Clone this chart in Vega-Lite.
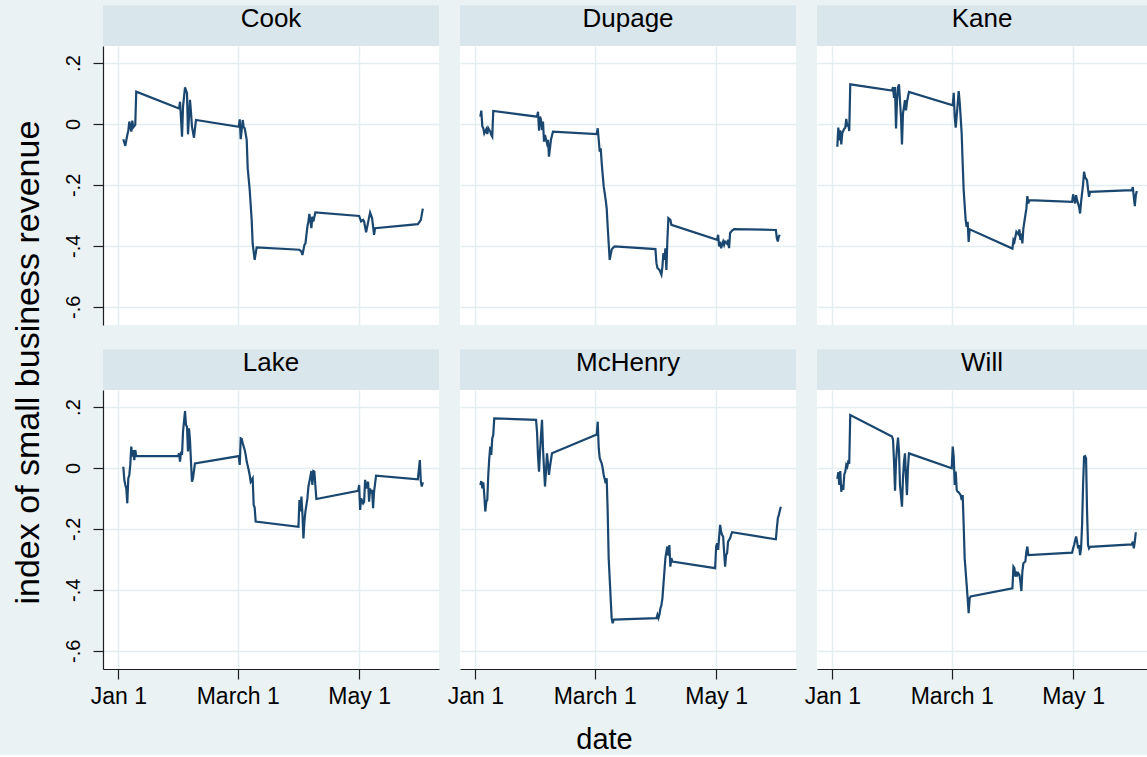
{
  "$schema": "https://vega.github.io/schema/vega-lite/v6.json",
  "background": "#eaf2f3",
  "padding": {"left": 11, "top": 5, "right": 0, "bottom": 0},
  "datasets": {
    "rev": [
      {"county":"Cook","date":"2020-01-03T12:00","revenue":-0.050},{"county":"Cook","date":"2020-01-04T12:00","revenue":-0.072},{"county":"Cook","date":"2020-01-05T12:00","revenue":-0.036},{"county":"Cook","date":"2020-01-06T00:00","revenue":-0.022},{"county":"Cook","date":"2020-01-06T12:00","revenue":0.008},{"county":"Cook","date":"2020-01-07T12:00","revenue":-0.025},{"county":"Cook","date":"2020-01-08T00:00","revenue":0.011},{"county":"Cook","date":"2020-01-08T12:00","revenue":-0.011},{"county":"Cook","date":"2020-01-09T12:00","revenue":-0.003},{"county":"Cook","date":"2020-01-10T00:00","revenue":0.106},{"county":"Cook","date":"2020-01-31T12:00","revenue":0.051},{"county":"Cook","date":"2020-02-01T00:00","revenue":0.073},{"county":"Cook","date":"2020-02-02T00:00","revenue":-0.042},{"county":"Cook","date":"2020-02-02T12:00","revenue":0.057},{"county":"Cook","date":"2020-02-03T12:00","revenue":0.120},{"county":"Cook","date":"2020-02-04T12:00","revenue":0.101},{"county":"Cook","date":"2020-02-05T00:00","revenue":-0.034},{"county":"Cook","date":"2020-02-06T00:00","revenue":0.079},{"county":"Cook","date":"2020-02-06T12:00","revenue":0.040},{"county":"Cook","date":"2020-02-07T00:00","revenue":-0.009},{"county":"Cook","date":"2020-02-08T00:00","revenue":-0.045},{"county":"Cook","date":"2020-02-09T00:00","revenue":0.013},{"county":"Cook","date":"2020-03-01T12:00","revenue":-0.009},{"county":"Cook","date":"2020-03-02T00:00","revenue":0.015},{"county":"Cook","date":"2020-03-02T12:00","revenue":-0.050},{"county":"Cook","date":"2020-03-03T12:00","revenue":0.013},{"county":"Cook","date":"2020-03-04T00:00","revenue":-0.011},{"county":"Cook","date":"2020-03-04T12:00","revenue":-0.014},{"county":"Cook","date":"2020-03-05T12:00","revenue":-0.052},{"county":"Cook","date":"2020-03-06T00:00","revenue":-0.145},{"county":"Cook","date":"2020-03-07T00:00","revenue":-0.216},{"county":"Cook","date":"2020-03-08T00:00","revenue":-0.315},{"county":"Cook","date":"2020-03-08T12:00","revenue":-0.393},{"county":"Cook","date":"2020-03-09T12:00","revenue":-0.446},{"county":"Cook","date":"2020-03-10T12:00","revenue":-0.405},{"county":"Cook","date":"2020-04-01T00:00","revenue":-0.413},{"county":"Cook","date":"2020-04-02T00:00","revenue":-0.419},{"county":"Cook","date":"2020-04-02T12:00","revenue":-0.430},{"county":"Cook","date":"2020-04-03T12:00","revenue":-0.397},{"county":"Cook","date":"2020-04-04T00:00","revenue":-0.393},{"county":"Cook","date":"2020-04-05T00:00","revenue":-0.337},{"county":"Cook","date":"2020-04-05T12:00","revenue":-0.320},{"county":"Cook","date":"2020-04-06T00:00","revenue":-0.295},{"county":"Cook","date":"2020-04-07T00:00","revenue":-0.342},{"county":"Cook","date":"2020-04-07T12:00","revenue":-0.304},{"county":"Cook","date":"2020-04-08T00:00","revenue":-0.320},{"county":"Cook","date":"2020-04-09T00:00","revenue":-0.290},{"county":"Cook","date":"2020-05-01T00:00","revenue":-0.302},{"county":"Cook","date":"2020-05-02T00:00","revenue":-0.320},{"county":"Cook","date":"2020-05-03T00:00","revenue":-0.315},{"county":"Cook","date":"2020-05-03T12:00","revenue":-0.320},{"county":"Cook","date":"2020-05-04T12:00","revenue":-0.356},{"county":"Cook","date":"2020-05-05T12:00","revenue":-0.323},{"county":"Cook","date":"2020-05-06T12:00","revenue":-0.291},{"county":"Cook","date":"2020-05-07T12:00","revenue":-0.309},{"county":"Cook","date":"2020-05-08T12:00","revenue":-0.364},{"county":"Cook","date":"2020-05-09T00:00","revenue":-0.342},{"county":"Cook","date":"2020-05-30T12:00","revenue":-0.329},{"county":"Cook","date":"2020-05-31T12:00","revenue":-0.320},{"county":"Cook","date":"2020-06-01T00:00","revenue":-0.315},{"county":"Cook","date":"2020-06-02T00:00","revenue":-0.278},

      {"county":"Dupage","date":"2020-01-03T12:00","revenue":0.024},{"county":"Dupage","date":"2020-01-04T00:00","revenue":0.044},{"county":"Dupage","date":"2020-01-04T12:00","revenue":-0.007},{"county":"Dupage","date":"2020-01-05T00:00","revenue":-0.014},{"county":"Dupage","date":"2020-01-05T12:00","revenue":-0.031},{"county":"Dupage","date":"2020-01-06T12:00","revenue":-0.017},{"county":"Dupage","date":"2020-01-07T00:00","revenue":-0.033},{"county":"Dupage","date":"2020-01-07T12:00","revenue":-0.014},{"county":"Dupage","date":"2020-01-08T12:00","revenue":-0.025},{"county":"Dupage","date":"2020-01-09T00:00","revenue":-0.036},{"county":"Dupage","date":"2020-01-09T12:00","revenue":-0.042},{"county":"Dupage","date":"2020-01-10T00:00","revenue":0.043},{"county":"Dupage","date":"2020-02-01T00:00","revenue":0.024},{"county":"Dupage","date":"2020-02-01T12:00","revenue":0.040},{"county":"Dupage","date":"2020-02-02T00:00","revenue":-0.022},{"county":"Dupage","date":"2020-02-02T12:00","revenue":0.024},{"county":"Dupage","date":"2020-02-03T00:00","revenue":0.013},{"county":"Dupage","date":"2020-02-03T12:00","revenue":-0.020},{"county":"Dupage","date":"2020-02-04T00:00","revenue":0.008},{"county":"Dupage","date":"2020-02-04T12:00","revenue":-0.058},{"county":"Dupage","date":"2020-02-05T00:00","revenue":-0.036},{"county":"Dupage","date":"2020-02-06T00:00","revenue":-0.063},{"county":"Dupage","date":"2020-02-06T12:00","revenue":-0.052},{"county":"Dupage","date":"2020-02-07T00:00","revenue":-0.107},{"county":"Dupage","date":"2020-02-08T00:00","revenue":-0.052},{"county":"Dupage","date":"2020-02-09T00:00","revenue":-0.025},{"county":"Dupage","date":"2020-03-02T00:00","revenue":-0.033},{"county":"Dupage","date":"2020-03-02T12:00","revenue":-0.014},{"county":"Dupage","date":"2020-03-03T00:00","revenue":-0.052},{"county":"Dupage","date":"2020-03-03T12:00","revenue":-0.091},{"county":"Dupage","date":"2020-03-04T00:00","revenue":-0.080},{"county":"Dupage","date":"2020-03-04T12:00","revenue":-0.129},{"county":"Dupage","date":"2020-03-05T00:00","revenue":-0.167},{"county":"Dupage","date":"2020-03-05T12:00","revenue":-0.205},{"county":"Dupage","date":"2020-03-06T12:00","revenue":-0.249},{"county":"Dupage","date":"2020-03-07T00:00","revenue":-0.277},{"county":"Dupage","date":"2020-03-07T12:00","revenue":-0.337},{"county":"Dupage","date":"2020-03-08T00:00","revenue":-0.391},{"county":"Dupage","date":"2020-03-08T12:00","revenue":-0.446},{"county":"Dupage","date":"2020-03-09T12:00","revenue":-0.413},{"county":"Dupage","date":"2020-03-10T00:00","revenue":-0.408},{"county":"Dupage","date":"2020-03-11T00:00","revenue":-0.402},{"county":"Dupage","date":"2020-03-31T12:00","revenue":-0.411},{"county":"Dupage","date":"2020-04-01T00:00","revenue":-0.457},{"county":"Dupage","date":"2020-04-01T12:00","revenue":-0.473},{"county":"Dupage","date":"2020-04-02T12:00","revenue":-0.479},{"county":"Dupage","date":"2020-04-03T12:00","revenue":-0.495},{"county":"Dupage","date":"2020-04-04T00:00","revenue":-0.468},{"county":"Dupage","date":"2020-04-04T12:00","revenue":-0.424},{"county":"Dupage","date":"2020-04-05T00:00","revenue":-0.446},{"county":"Dupage","date":"2020-04-05T12:00","revenue":-0.408},{"county":"Dupage","date":"2020-04-06T00:00","revenue":-0.479},{"county":"Dupage","date":"2020-04-06T12:00","revenue":-0.380},{"county":"Dupage","date":"2020-04-07T00:00","revenue":-0.309},{"county":"Dupage","date":"2020-04-08T00:00","revenue":-0.315},{"county":"Dupage","date":"2020-04-08T12:00","revenue":-0.331},{"county":"Dupage","date":"2020-05-01T12:00","revenue":-0.380},{"county":"Dupage","date":"2020-05-02T00:00","revenue":-0.364},{"county":"Dupage","date":"2020-05-02T12:00","revenue":-0.402},{"county":"Dupage","date":"2020-05-03T00:00","revenue":-0.386},{"county":"Dupage","date":"2020-05-03T12:00","revenue":-0.408},{"county":"Dupage","date":"2020-05-04T12:00","revenue":-0.386},{"county":"Dupage","date":"2020-05-05T00:00","revenue":-0.397},{"county":"Dupage","date":"2020-05-05T12:00","revenue":-0.386},{"county":"Dupage","date":"2020-05-06T12:00","revenue":-0.393},{"county":"Dupage","date":"2020-05-07T00:00","revenue":-0.380},{"county":"Dupage","date":"2020-05-07T12:00","revenue":-0.408},{"county":"Dupage","date":"2020-05-08T00:00","revenue":-0.358},{"county":"Dupage","date":"2020-05-09T00:00","revenue":-0.350},{"county":"Dupage","date":"2020-05-10T00:00","revenue":-0.345},{"county":"Dupage","date":"2020-05-31T00:00","revenue":-0.348},{"county":"Dupage","date":"2020-05-31T12:00","revenue":-0.375},{"county":"Dupage","date":"2020-06-01T00:00","revenue":-0.386},{"county":"Dupage","date":"2020-06-01T12:00","revenue":-0.369},{"county":"Dupage","date":"2020-06-02T00:00","revenue":-0.364},

      {"county":"Kane","date":"2020-01-03T12:00","revenue":-0.075},{"county":"Kane","date":"2020-01-04T00:00","revenue":-0.012},{"county":"Kane","date":"2020-01-04T12:00","revenue":-0.054},{"county":"Kane","date":"2020-01-05T00:00","revenue":-0.021},{"county":"Kane","date":"2020-01-05T12:00","revenue":-0.067},{"county":"Kane","date":"2020-01-06T00:00","revenue":-0.030},{"county":"Kane","date":"2020-01-07T00:00","revenue":-0.015},{"county":"Kane","date":"2020-01-07T12:00","revenue":-0.012},{"county":"Kane","date":"2020-01-08T00:00","revenue":0.017},{"county":"Kane","date":"2020-01-08T12:00","revenue":-0.008},{"county":"Kane","date":"2020-01-09T00:00","revenue":0.001},{"county":"Kane","date":"2020-01-09T12:00","revenue":-0.023},{"county":"Kane","date":"2020-01-10T00:00","revenue":0.130},{"county":"Kane","date":"2020-01-31T00:00","revenue":0.110},{"county":"Kane","date":"2020-01-31T12:00","revenue":0.121},{"county":"Kane","date":"2020-02-01T00:00","revenue":0.086},{"county":"Kane","date":"2020-02-01T12:00","revenue":0.121},{"county":"Kane","date":"2020-02-02T00:00","revenue":-0.015},{"county":"Kane","date":"2020-02-02T12:00","revenue":0.078},{"county":"Kane","date":"2020-02-03T00:00","revenue":0.121},{"county":"Kane","date":"2020-02-03T12:00","revenue":0.130},{"county":"Kane","date":"2020-02-04T12:00","revenue":0.023},{"county":"Kane","date":"2020-02-05T00:00","revenue":-0.067},{"county":"Kane","date":"2020-02-05T12:00","revenue":0.034},{"county":"Kane","date":"2020-02-06T00:00","revenue":0.056},{"county":"Kane","date":"2020-02-06T12:00","revenue":0.078},{"county":"Kane","date":"2020-02-07T00:00","revenue":0.045},{"county":"Kane","date":"2020-02-07T12:00","revenue":0.072},{"county":"Kane","date":"2020-02-08T12:00","revenue":0.105},{"county":"Kane","date":"2020-03-01T12:00","revenue":0.061},{"county":"Kane","date":"2020-03-02T00:00","revenue":0.102},{"county":"Kane","date":"2020-03-02T12:00","revenue":0.023},{"county":"Kane","date":"2020-03-03T00:00","revenue":-0.012},{"county":"Kane","date":"2020-03-04T00:00","revenue":0.067},{"county":"Kane","date":"2020-03-04T12:00","revenue":0.108},{"county":"Kane","date":"2020-03-05T00:00","revenue":0.072},{"county":"Kane","date":"2020-03-06T00:00","revenue":-0.032},{"county":"Kane","date":"2020-03-06T12:00","revenue":-0.130},{"county":"Kane","date":"2020-03-07T00:00","revenue":-0.217},{"county":"Kane","date":"2020-03-08T00:00","revenue":-0.316},{"county":"Kane","date":"2020-03-08T12:00","revenue":-0.338},{"county":"Kane","date":"2020-03-09T00:00","revenue":-0.321},{"county":"Kane","date":"2020-03-09T12:00","revenue":-0.387},{"county":"Kane","date":"2020-03-10T00:00","revenue":-0.346},{"county":"Kane","date":"2020-03-31T12:00","revenue":-0.409},{"county":"Kane","date":"2020-04-01T00:00","revenue":-0.381},{"county":"Kane","date":"2020-04-01T12:00","revenue":-0.387},{"county":"Kane","date":"2020-04-02T00:00","revenue":-0.370},{"county":"Kane","date":"2020-04-02T12:00","revenue":-0.354},{"county":"Kane","date":"2020-04-03T12:00","revenue":-0.362},{"county":"Kane","date":"2020-04-04T00:00","revenue":-0.346},{"county":"Kane","date":"2020-04-04T12:00","revenue":-0.381},{"county":"Kane","date":"2020-04-05T00:00","revenue":-0.360},{"county":"Kane","date":"2020-04-05T12:00","revenue":-0.392},{"county":"Kane","date":"2020-04-06T00:00","revenue":-0.343},{"county":"Kane","date":"2020-04-06T12:00","revenue":-0.321},{"county":"Kane","date":"2020-04-07T12:00","revenue":-0.278},{"county":"Kane","date":"2020-04-08T00:00","revenue":-0.237},{"county":"Kane","date":"2020-04-08T12:00","revenue":-0.261},{"county":"Kane","date":"2020-04-09T00:00","revenue":-0.250},{"county":"Kane","date":"2020-04-30T12:00","revenue":-0.256},{"county":"Kane","date":"2020-05-01T00:00","revenue":-0.231},{"county":"Kane","date":"2020-05-02T00:00","revenue":-0.261},{"county":"Kane","date":"2020-05-02T12:00","revenue":-0.234},{"county":"Kane","date":"2020-05-03T00:00","revenue":-0.250},{"county":"Kane","date":"2020-05-04T00:00","revenue":-0.272},{"county":"Kane","date":"2020-05-04T12:00","revenue":-0.294},{"county":"Kane","date":"2020-05-05T00:00","revenue":-0.256},{"county":"Kane","date":"2020-05-06T00:00","revenue":-0.198},{"county":"Kane","date":"2020-05-06T12:00","revenue":-0.157},{"county":"Kane","date":"2020-05-07T00:00","revenue":-0.174},{"county":"Kane","date":"2020-05-08T00:00","revenue":-0.185},{"county":"Kane","date":"2020-05-08T12:00","revenue":-0.215},{"county":"Kane","date":"2020-05-09T00:00","revenue":-0.239},{"county":"Kane","date":"2020-05-09T12:00","revenue":-0.223},{"county":"Kane","date":"2020-05-30T12:00","revenue":-0.217},{"county":"Kane","date":"2020-05-31T00:00","revenue":-0.207},{"county":"Kane","date":"2020-05-31T12:00","revenue":-0.239},{"county":"Kane","date":"2020-06-01T00:00","revenue":-0.270},{"county":"Kane","date":"2020-06-01T12:00","revenue":-0.234},{"county":"Kane","date":"2020-06-02T00:00","revenue":-0.220},

      {"county":"Lake","date":"2020-01-03T12:00","revenue":0.004},{"county":"Lake","date":"2020-01-04T00:00","revenue":-0.039},{"county":"Lake","date":"2020-01-04T12:00","revenue":-0.056},{"county":"Lake","date":"2020-01-05T00:00","revenue":-0.067},{"county":"Lake","date":"2020-01-05T12:00","revenue":-0.116},{"county":"Lake","date":"2020-01-06T00:00","revenue":-0.034},{"county":"Lake","date":"2020-01-06T12:00","revenue":-0.023},{"county":"Lake","date":"2020-01-07T00:00","revenue":0.010},{"county":"Lake","date":"2020-01-07T12:00","revenue":0.070},{"county":"Lake","date":"2020-01-08T00:00","revenue":0.037},{"county":"Lake","date":"2020-01-08T12:00","revenue":0.059},{"county":"Lake","date":"2020-01-09T00:00","revenue":0.026},{"county":"Lake","date":"2020-01-09T12:00","revenue":0.059},{"county":"Lake","date":"2020-01-10T00:00","revenue":0.039},{"county":"Lake","date":"2020-01-31T00:00","revenue":0.039},{"county":"Lake","date":"2020-01-31T12:00","revenue":0.048},{"county":"Lake","date":"2020-02-01T00:00","revenue":0.021},{"county":"Lake","date":"2020-02-01T12:00","revenue":0.054},{"county":"Lake","date":"2020-02-02T00:00","revenue":0.043},{"county":"Lake","date":"2020-02-02T12:00","revenue":0.119},{"county":"Lake","date":"2020-02-03T12:00","revenue":0.187},{"county":"Lake","date":"2020-02-04T00:00","revenue":0.141},{"county":"Lake","date":"2020-02-04T12:00","revenue":0.136},{"county":"Lake","date":"2020-02-05T00:00","revenue":0.054},{"county":"Lake","date":"2020-02-05T12:00","revenue":0.130},{"county":"Lake","date":"2020-02-06T00:00","revenue":0.092},{"county":"Lake","date":"2020-02-06T12:00","revenue":0.021},{"county":"Lake","date":"2020-02-07T00:00","revenue":-0.045},{"county":"Lake","date":"2020-02-07T12:00","revenue":-0.034},{"county":"Lake","date":"2020-02-08T12:00","revenue":0.015},{"county":"Lake","date":"2020-03-01T12:00","revenue":0.039},{"county":"Lake","date":"2020-03-02T00:00","revenue":0.010},{"county":"Lake","date":"2020-03-02T12:00","revenue":0.097},{"county":"Lake","date":"2020-03-03T00:00","revenue":0.095},{"county":"Lake","date":"2020-03-03T12:00","revenue":0.081},{"county":"Lake","date":"2020-03-04T12:00","revenue":0.059},{"county":"Lake","date":"2020-03-05T00:00","revenue":0.043},{"county":"Lake","date":"2020-03-05T12:00","revenue":0.021},{"county":"Lake","date":"2020-03-06T12:00","revenue":-0.007},{"county":"Lake","date":"2020-03-07T00:00","revenue":-0.023},{"county":"Lake","date":"2020-03-07T12:00","revenue":-0.045},{"county":"Lake","date":"2020-03-08T12:00","revenue":-0.034},{"county":"Lake","date":"2020-03-09T00:00","revenue":-0.121},{"county":"Lake","date":"2020-03-09T12:00","revenue":-0.130},{"county":"Lake","date":"2020-03-10T00:00","revenue":-0.176},{"county":"Lake","date":"2020-03-31T12:00","revenue":-0.193},{"county":"Lake","date":"2020-04-01T00:00","revenue":-0.105},{"county":"Lake","date":"2020-04-01T12:00","revenue":-0.143},{"county":"Lake","date":"2020-04-02T00:00","revenue":-0.094},{"county":"Lake","date":"2020-04-02T12:00","revenue":-0.149},{"county":"Lake","date":"2020-04-03T00:00","revenue":-0.231},{"county":"Lake","date":"2020-04-03T12:00","revenue":-0.176},{"county":"Lake","date":"2020-04-04T00:00","revenue":-0.143},{"county":"Lake","date":"2020-04-05T00:00","revenue":-0.100},{"county":"Lake","date":"2020-04-05T12:00","revenue":-0.061},{"county":"Lake","date":"2020-04-06T00:00","revenue":-0.045},{"county":"Lake","date":"2020-04-06T12:00","revenue":-0.028},{"county":"Lake","date":"2020-04-07T00:00","revenue":-0.010},{"county":"Lake","date":"2020-04-07T12:00","revenue":-0.056},{"county":"Lake","date":"2020-04-08T00:00","revenue":-0.010},{"county":"Lake","date":"2020-04-08T12:00","revenue":-0.012},{"county":"Lake","date":"2020-04-09T12:00","revenue":-0.102},{"county":"Lake","date":"2020-04-30T12:00","revenue":-0.075},{"county":"Lake","date":"2020-05-01T00:00","revenue":-0.056},{"county":"Lake","date":"2020-05-01T12:00","revenue":-0.138},{"county":"Lake","date":"2020-05-02T00:00","revenue":-0.100},{"county":"Lake","date":"2020-05-03T00:00","revenue":-0.116},{"county":"Lake","date":"2020-05-03T12:00","revenue":-0.111},{"county":"Lake","date":"2020-05-04T00:00","revenue":-0.039},{"county":"Lake","date":"2020-05-04T12:00","revenue":-0.067},{"county":"Lake","date":"2020-05-05T12:00","revenue":-0.045},{"county":"Lake","date":"2020-05-06T00:00","revenue":-0.111},{"county":"Lake","date":"2020-05-06T12:00","revenue":-0.067},{"county":"Lake","date":"2020-05-07T00:00","revenue":-0.083},{"county":"Lake","date":"2020-05-07T12:00","revenue":-0.072},{"county":"Lake","date":"2020-05-08T00:00","revenue":-0.132},{"county":"Lake","date":"2020-05-08T12:00","revenue":-0.078},{"county":"Lake","date":"2020-05-09T12:00","revenue":-0.025},{"county":"Lake","date":"2020-05-30T12:00","revenue":-0.037},{"county":"Lake","date":"2020-05-31T12:00","revenue":0.026},{"county":"Lake","date":"2020-06-01T00:00","revenue":-0.045},{"county":"Lake","date":"2020-06-01T12:00","revenue":-0.061},{"county":"Lake","date":"2020-06-02T00:00","revenue":-0.047},

      {"county":"McHenry","date":"2020-01-03T12:00","revenue":-0.056},{"county":"McHenry","date":"2020-01-04T00:00","revenue":-0.043},{"county":"McHenry","date":"2020-01-04T12:00","revenue":-0.067},{"county":"McHenry","date":"2020-01-05T00:00","revenue":-0.047},{"county":"McHenry","date":"2020-01-05T12:00","revenue":-0.089},{"county":"McHenry","date":"2020-01-06T00:00","revenue":-0.143},{"county":"McHenry","date":"2020-01-06T12:00","revenue":-0.111},{"county":"McHenry","date":"2020-01-07T00:00","revenue":-0.105},{"county":"McHenry","date":"2020-01-07T12:00","revenue":-0.023},{"county":"McHenry","date":"2020-01-08T00:00","revenue":0.032},{"county":"McHenry","date":"2020-01-08T12:00","revenue":0.070},{"county":"McHenry","date":"2020-01-09T00:00","revenue":0.043},{"county":"McHenry","date":"2020-01-09T12:00","revenue":0.097},{"county":"McHenry","date":"2020-01-10T00:00","revenue":0.108},{"county":"McHenry","date":"2020-01-10T12:00","revenue":0.163},{"county":"McHenry","date":"2020-01-31T12:00","revenue":0.158},{"county":"McHenry","date":"2020-02-01T00:00","revenue":0.119},{"county":"McHenry","date":"2020-02-01T12:00","revenue":0.037},{"county":"McHenry","date":"2020-02-02T00:00","revenue":-0.012},{"county":"McHenry","date":"2020-02-02T12:00","revenue":0.054},{"county":"McHenry","date":"2020-02-03T00:00","revenue":0.108},{"county":"McHenry","date":"2020-02-03T12:00","revenue":0.158},{"county":"McHenry","date":"2020-02-04T00:00","revenue":0.065},{"county":"McHenry","date":"2020-02-04T12:00","revenue":-0.001},{"county":"McHenry","date":"2020-02-05T00:00","revenue":-0.061},{"county":"McHenry","date":"2020-02-05T12:00","revenue":-0.012},{"county":"McHenry","date":"2020-02-06T00:00","revenue":0.048},{"county":"McHenry","date":"2020-02-06T12:00","revenue":0.015},{"county":"McHenry","date":"2020-02-07T00:00","revenue":-0.023},{"county":"McHenry","date":"2020-02-07T12:00","revenue":0.004},{"county":"McHenry","date":"2020-02-08T12:00","revenue":0.048},{"county":"McHenry","date":"2020-03-02T00:00","revenue":0.110},{"county":"McHenry","date":"2020-03-02T12:00","revenue":0.152},{"county":"McHenry","date":"2020-03-03T00:00","revenue":0.065},{"county":"McHenry","date":"2020-03-03T12:00","revenue":0.032},{"county":"McHenry","date":"2020-03-04T12:00","revenue":0.015},{"county":"McHenry","date":"2020-03-05T00:00","revenue":-0.001},{"county":"McHenry","date":"2020-03-05T12:00","revenue":-0.023},{"county":"McHenry","date":"2020-03-06T12:00","revenue":-0.050},{"county":"McHenry","date":"2020-03-07T00:00","revenue":-0.034},{"county":"McHenry","date":"2020-03-07T12:00","revenue":-0.143},{"county":"McHenry","date":"2020-03-08T00:00","revenue":-0.296},{"county":"McHenry","date":"2020-03-09T00:00","revenue":-0.428},{"county":"McHenry","date":"2020-03-09T12:00","revenue":-0.493},{"county":"McHenry","date":"2020-03-10T00:00","revenue":-0.510},{"county":"McHenry","date":"2020-03-10T12:00","revenue":-0.498},{"county":"McHenry","date":"2020-04-01T00:00","revenue":-0.493},{"county":"McHenry","date":"2020-04-01T12:00","revenue":-0.482},{"county":"McHenry","date":"2020-04-02T00:00","revenue":-0.493},{"county":"McHenry","date":"2020-04-02T12:00","revenue":-0.482},{"county":"McHenry","date":"2020-04-03T00:00","revenue":-0.461},{"county":"McHenry","date":"2020-04-03T12:00","revenue":-0.450},{"county":"McHenry","date":"2020-04-04T00:00","revenue":-0.428},{"county":"McHenry","date":"2020-04-04T12:00","revenue":-0.384},{"county":"McHenry","date":"2020-04-05T00:00","revenue":-0.340},{"county":"McHenry","date":"2020-04-05T12:00","revenue":-0.296},{"county":"McHenry","date":"2020-04-06T00:00","revenue":-0.275},{"county":"McHenry","date":"2020-04-06T12:00","revenue":-0.258},{"county":"McHenry","date":"2020-04-07T00:00","revenue":-0.288},{"county":"McHenry","date":"2020-04-07T12:00","revenue":-0.253},{"county":"McHenry","date":"2020-04-08T00:00","revenue":-0.324},{"county":"McHenry","date":"2020-04-08T12:00","revenue":-0.296},{"county":"McHenry","date":"2020-04-09T00:00","revenue":-0.307},{"county":"McHenry","date":"2020-04-30T12:00","revenue":-0.329},{"county":"McHenry","date":"2020-05-01T00:00","revenue":-0.258},{"county":"McHenry","date":"2020-05-01T12:00","revenue":-0.247},{"county":"McHenry","date":"2020-05-02T00:00","revenue":-0.269},{"county":"McHenry","date":"2020-05-03T00:00","revenue":-0.187},{"county":"McHenry","date":"2020-05-03T12:00","revenue":-0.209},{"county":"McHenry","date":"2020-05-04T00:00","revenue":-0.220},{"county":"McHenry","date":"2020-05-04T12:00","revenue":-0.225},{"county":"McHenry","date":"2020-05-05T12:00","revenue":-0.324},{"county":"McHenry","date":"2020-05-06T00:00","revenue":-0.286},{"county":"McHenry","date":"2020-05-06T12:00","revenue":-0.280},{"county":"McHenry","date":"2020-05-07T00:00","revenue":-0.242},{"county":"McHenry","date":"2020-05-08T00:00","revenue":-0.231},{"county":"McHenry","date":"2020-05-08T12:00","revenue":-0.220},{"county":"McHenry","date":"2020-05-09T00:00","revenue":-0.211},{"county":"McHenry","date":"2020-05-31T00:00","revenue":-0.234},{"county":"McHenry","date":"2020-05-31T12:00","revenue":-0.198},{"county":"McHenry","date":"2020-06-01T00:00","revenue":-0.165},{"county":"McHenry","date":"2020-06-01T12:00","revenue":-0.154},{"county":"McHenry","date":"2020-06-02T12:00","revenue":-0.127},

      {"county":"Will","date":"2020-01-03T12:00","revenue":-0.036},{"county":"Will","date":"2020-01-04T00:00","revenue":-0.014},{"county":"Will","date":"2020-01-04T12:00","revenue":-0.056},{"county":"Will","date":"2020-01-05T00:00","revenue":-0.010},{"county":"Will","date":"2020-01-05T12:00","revenue":-0.078},{"county":"Will","date":"2020-01-06T00:00","revenue":-0.056},{"county":"Will","date":"2020-01-06T12:00","revenue":-0.072},{"county":"Will","date":"2020-01-07T00:00","revenue":-0.021},{"county":"Will","date":"2020-01-07T12:00","revenue":-0.012},{"county":"Will","date":"2020-01-08T00:00","revenue":0.010},{"county":"Will","date":"2020-01-08T12:00","revenue":0.004},{"county":"Will","date":"2020-01-09T00:00","revenue":0.021},{"county":"Will","date":"2020-01-09T12:00","revenue":0.019},{"county":"Will","date":"2020-01-10T00:00","revenue":0.174},{"county":"Will","date":"2020-01-31T00:00","revenue":0.103},{"county":"Will","date":"2020-01-31T12:00","revenue":0.092},{"county":"Will","date":"2020-02-01T00:00","revenue":0.021},{"county":"Will","date":"2020-02-01T12:00","revenue":-0.075},{"county":"Will","date":"2020-02-02T00:00","revenue":0.021},{"county":"Will","date":"2020-02-02T12:00","revenue":0.065},{"county":"Will","date":"2020-02-03T00:00","revenue":0.100},{"county":"Will","date":"2020-02-03T12:00","revenue":0.054},{"county":"Will","date":"2020-02-04T00:00","revenue":-0.056},{"county":"Will","date":"2020-02-05T00:00","revenue":-0.127},{"county":"Will","date":"2020-02-05T12:00","revenue":-0.034},{"county":"Will","date":"2020-02-06T00:00","revenue":0.021},{"county":"Will","date":"2020-02-06T12:00","revenue":0.048},{"county":"Will","date":"2020-02-07T00:00","revenue":-0.028},{"county":"Will","date":"2020-02-07T12:00","revenue":-0.089},{"county":"Will","date":"2020-02-08T00:00","revenue":-0.001},{"county":"Will","date":"2020-02-08T12:00","revenue":0.048},{"county":"Will","date":"2020-03-01T00:00","revenue":-0.001},{"county":"Will","date":"2020-03-01T12:00","revenue":0.070},{"county":"Will","date":"2020-03-02T00:00","revenue":0.037},{"county":"Will","date":"2020-03-02T12:00","revenue":-0.056},{"county":"Will","date":"2020-03-03T00:00","revenue":-0.012},{"county":"Will","date":"2020-03-03T12:00","revenue":-0.072},{"county":"Will","date":"2020-03-04T00:00","revenue":-0.078},{"county":"Will","date":"2020-03-04T12:00","revenue":-0.080},{"county":"Will","date":"2020-03-05T12:00","revenue":-0.089},{"county":"Will","date":"2020-03-06T00:00","revenue":-0.105},{"county":"Will","date":"2020-03-06T12:00","revenue":-0.089},{"county":"Will","date":"2020-03-07T00:00","revenue":-0.187},{"county":"Will","date":"2020-03-07T12:00","revenue":-0.296},{"county":"Will","date":"2020-03-08T12:00","revenue":-0.384},{"county":"Will","date":"2020-03-09T00:00","revenue":-0.428},{"county":"Will","date":"2020-03-09T12:00","revenue":-0.477},{"county":"Will","date":"2020-03-10T00:00","revenue":-0.428},{"county":"Will","date":"2020-03-10T12:00","revenue":-0.422},{"county":"Will","date":"2020-03-31T12:00","revenue":-0.395},{"county":"Will","date":"2020-04-01T00:00","revenue":-0.324},{"county":"Will","date":"2020-04-01T12:00","revenue":-0.329},{"county":"Will","date":"2020-04-02T00:00","revenue":-0.357},{"county":"Will","date":"2020-04-02T12:00","revenue":-0.340},{"county":"Will","date":"2020-04-03T00:00","revenue":-0.351},{"county":"Will","date":"2020-04-03T12:00","revenue":-0.346},{"county":"Will","date":"2020-04-04T00:00","revenue":-0.351},{"county":"Will","date":"2020-04-04T12:00","revenue":-0.373},{"county":"Will","date":"2020-04-05T00:00","revenue":-0.404},{"county":"Will","date":"2020-04-05T12:00","revenue":-0.340},{"county":"Will","date":"2020-04-06T00:00","revenue":-0.313},{"county":"Will","date":"2020-04-07T00:00","revenue":-0.307},{"county":"Will","date":"2020-04-07T12:00","revenue":-0.275},{"county":"Will","date":"2020-04-08T00:00","revenue":-0.258},{"county":"Will","date":"2020-04-08T12:00","revenue":-0.286},{"county":"Will","date":"2020-04-30T12:00","revenue":-0.278},{"county":"Will","date":"2020-05-01T00:00","revenue":-0.264},{"county":"Will","date":"2020-05-01T12:00","revenue":-0.253},{"county":"Will","date":"2020-05-02T12:00","revenue":-0.225},{"county":"Will","date":"2020-05-03T00:00","revenue":-0.242},{"county":"Will","date":"2020-05-03T12:00","revenue":-0.264},{"county":"Will","date":"2020-05-04T00:00","revenue":-0.253},{"county":"Will","date":"2020-05-04T12:00","revenue":-0.286},{"county":"Will","date":"2020-05-05T00:00","revenue":-0.264},{"county":"Will","date":"2020-05-05T12:00","revenue":-0.187},{"county":"Will","date":"2020-05-06T00:00","revenue":-0.056},{"county":"Will","date":"2020-05-06T12:00","revenue":0.037},{"county":"Will","date":"2020-05-07T00:00","revenue":0.039},{"county":"Will","date":"2020-05-07T12:00","revenue":0.032},{"county":"Will","date":"2020-05-08T00:00","revenue":-0.143},{"county":"Will","date":"2020-05-08T12:00","revenue":-0.253},{"county":"Will","date":"2020-05-09T00:00","revenue":-0.264},{"county":"Will","date":"2020-05-09T12:00","revenue":-0.259},{"county":"Will","date":"2020-05-30T12:00","revenue":-0.251},{"county":"Will","date":"2020-05-31T00:00","revenue":-0.242},{"county":"Will","date":"2020-05-31T12:00","revenue":-0.264},{"county":"Will","date":"2020-06-01T00:00","revenue":-0.242},{"county":"Will","date":"2020-06-01T12:00","revenue":-0.211}
    ]
  },
  "data": {"name": "rev"},
  "title": {"text": "date", "orient": "bottom", "anchor": "middle", "fontSize": 29, "offset": 18, "dx": 25},
  "vconcat": [
    {
      "title": {"text": "index of small business revenue", "orient": "left", "anchor": "middle", "fontSize": 34, "offset": 17, "dx": -6},
      "columns": 3,
      "bounds": "flush",
      "spacing": {"row": 65, "column": 21},
      "concat": [
        {
          "width": 336, "height": 279,
          "transform": [{"filter": "datum.county === 'Cook'"}],
          "layer": [
            {"transform": [{"aggregate": [{"op": "count", "as": "n"}], "groupby": ["county"]}],
             "layer": [
               {"mark": {"type": "rect", "color": "#d9e6eb"}, "encoding": {"y": {"datum": 0.256}, "y2": {"datum": 0.39}}},
               {"mark": {"type": "text", "fontSize": 26, "color": "#000"}, "encoding": {"y": {"datum": 0.346}, "text": {"field": "county", "type": "nominal"}}}
             ]},
            {"mark": {"type": "line", "color": "#1a476f", "strokeWidth": 2.2},
             "encoding": {
               "x": {"field": "date", "type": "temporal", "scale": {"domain": [{"year": 2019, "month": 12, "date": 24, "hours": 7}, {"year": 2020, "month": 6, "date": 10, "hours": 3}], "nice": false},
                     "axis": {"values": [{"year": 2020, "month": 1, "date": 1}, {"year": 2020, "month": 3, "date": 1}, {"year": 2020, "month": 5, "date": 1}], "labels": false, "ticks": false, "domain": false, "grid": true, "title": null}},
               "y": {"field": "revenue", "type": "quantitative", "scale": {"domain": [-0.66, 0.256], "nice": false, "zero": false},
                     "axis": {"values": [-0.6, -0.4, -0.2, 0, 0.2], "labelExpr": "datum.value == 0 ? '0' : (datum.value < 0 ? '-' : '') + '.' + round(abs(datum.value) * 10)", "labelAngle": 270, "labelAlign": "center", "labelBaseline": "bottom", "labelFontSize": 20, "labelPadding": 10, "grid": true, "title": null}}
             }}
          ]
        },
        {
          "width": 336, "height": 279,
          "transform": [{"filter": "datum.county === 'Dupage'"}],
          "layer": [
            {"transform": [{"aggregate": [{"op": "count", "as": "n"}], "groupby": ["county"]}],
             "layer": [
               {"mark": {"type": "rect", "color": "#d9e6eb"}, "encoding": {"y": {"datum": 0.256}, "y2": {"datum": 0.39}}},
               {"mark": {"type": "text", "fontSize": 26, "color": "#000"}, "encoding": {"y": {"datum": 0.346}, "text": {"field": "county", "type": "nominal"}}}
             ]},
            {"mark": {"type": "line", "color": "#1a476f", "strokeWidth": 2.2},
             "encoding": {
               "x": {"field": "date", "type": "temporal", "scale": {"domain": [{"year": 2019, "month": 12, "date": 24, "hours": 7}, {"year": 2020, "month": 6, "date": 10, "hours": 3}], "nice": false},
                     "axis": {"values": [{"year": 2020, "month": 1, "date": 1}, {"year": 2020, "month": 3, "date": 1}, {"year": 2020, "month": 5, "date": 1}], "labels": false, "ticks": false, "domain": false, "grid": true, "title": null}},
               "y": {"field": "revenue", "type": "quantitative", "scale": {"domain": [-0.66, 0.256], "nice": false, "zero": false},
                     "axis": {"values": [-0.6, -0.4, -0.2, 0, 0.2], "labels": false, "ticks": false, "domain": false, "grid": true, "title": null}}
             }}
          ]
        },
        {
          "width": 330, "height": 279,
          "transform": [{"filter": "datum.county === 'Kane'"}],
          "layer": [
            {"transform": [{"aggregate": [{"op": "count", "as": "n"}], "groupby": ["county"]}],
             "layer": [
               {"mark": {"type": "rect", "color": "#d9e6eb"}, "encoding": {"y": {"datum": 0.256}, "y2": {"datum": 0.39}}},
               {"mark": {"type": "text", "fontSize": 26, "color": "#000"}, "encoding": {"y": {"datum": 0.346}, "text": {"field": "county", "type": "nominal"}}}
             ]},
            {"mark": {"type": "line", "color": "#1a476f", "strokeWidth": 2.2},
             "encoding": {
               "x": {"field": "date", "type": "temporal", "scale": {"domain": [{"year": 2019, "month": 12, "date": 24, "hours": 7}, {"year": 2020, "month": 6, "date": 7, "hours": 3}], "nice": false},
                     "axis": {"values": [{"year": 2020, "month": 1, "date": 1}, {"year": 2020, "month": 3, "date": 1}, {"year": 2020, "month": 5, "date": 1}], "labels": false, "ticks": false, "domain": false, "grid": true, "title": null}},
               "y": {"field": "revenue", "type": "quantitative", "scale": {"domain": [-0.66, 0.256], "nice": false, "zero": false},
                     "axis": {"values": [-0.6, -0.4, -0.2, 0, 0.2], "labels": false, "ticks": false, "domain": false, "grid": true, "title": null}}
             }}
          ]
        },
        {
          "width": 336, "height": 279,
          "transform": [{"filter": "datum.county === 'Lake'"}],
          "layer": [
            {"transform": [{"aggregate": [{"op": "count", "as": "n"}], "groupby": ["county"]}],
             "layer": [
               {"mark": {"type": "rect", "color": "#d9e6eb"}, "encoding": {"y": {"datum": 0.256}, "y2": {"datum": 0.39}}},
               {"mark": {"type": "text", "fontSize": 26, "color": "#000"}, "encoding": {"y": {"datum": 0.346}, "text": {"field": "county", "type": "nominal"}}}
             ]},
            {"mark": {"type": "line", "color": "#1a476f", "strokeWidth": 2.2},
             "encoding": {
               "x": {"field": "date", "type": "temporal", "scale": {"domain": [{"year": 2019, "month": 12, "date": 24, "hours": 7}, {"year": 2020, "month": 6, "date": 10, "hours": 3}], "nice": false},
                     "axis": {"values": [{"year": 2020, "month": 1, "date": 1}, {"year": 2020, "month": 3, "date": 1}, {"year": 2020, "month": 5, "date": 1}], "labelExpr": "month(datum.value) == 0 ? 'Jan 1' : month(datum.value) == 2 ? 'March 1' : 'May 1'", "labelFontSize": 23, "labelPadding": 6, "labelFlush": false, "labelOverlap": false, "grid": true, "title": null}},
               "y": {"field": "revenue", "type": "quantitative", "scale": {"domain": [-0.66, 0.256], "nice": false, "zero": false},
                     "axis": {"values": [-0.6, -0.4, -0.2, 0, 0.2], "labelExpr": "datum.value == 0 ? '0' : (datum.value < 0 ? '-' : '') + '.' + round(abs(datum.value) * 10)", "labelAngle": 270, "labelAlign": "center", "labelBaseline": "bottom", "labelFontSize": 20, "labelPadding": 10, "grid": true, "title": null}}
             }}
          ]
        },
        {
          "width": 336, "height": 279,
          "transform": [{"filter": "datum.county === 'McHenry'"}],
          "layer": [
            {"transform": [{"aggregate": [{"op": "count", "as": "n"}], "groupby": ["county"]}],
             "layer": [
               {"mark": {"type": "rect", "color": "#d9e6eb"}, "encoding": {"y": {"datum": 0.256}, "y2": {"datum": 0.39}}},
               {"mark": {"type": "text", "fontSize": 26, "color": "#000"}, "encoding": {"y": {"datum": 0.346}, "text": {"field": "county", "type": "nominal"}}}
             ]},
            {"mark": {"type": "line", "color": "#1a476f", "strokeWidth": 2.2},
             "encoding": {
               "x": {"field": "date", "type": "temporal", "scale": {"domain": [{"year": 2019, "month": 12, "date": 24, "hours": 7}, {"year": 2020, "month": 6, "date": 10, "hours": 3}], "nice": false},
                     "axis": {"values": [{"year": 2020, "month": 1, "date": 1}, {"year": 2020, "month": 3, "date": 1}, {"year": 2020, "month": 5, "date": 1}], "labelExpr": "month(datum.value) == 0 ? 'Jan 1' : month(datum.value) == 2 ? 'March 1' : 'May 1'", "labelFontSize": 23, "labelPadding": 6, "labelFlush": false, "labelOverlap": false, "grid": true, "title": null}},
               "y": {"field": "revenue", "type": "quantitative", "scale": {"domain": [-0.66, 0.256], "nice": false, "zero": false},
                     "axis": {"values": [-0.6, -0.4, -0.2, 0, 0.2], "labels": false, "ticks": false, "domain": false, "grid": true, "title": null}}
             }}
          ]
        },
        {
          "width": 330, "height": 279,
          "transform": [{"filter": "datum.county === 'Will'"}],
          "layer": [
            {"transform": [{"aggregate": [{"op": "count", "as": "n"}], "groupby": ["county"]}],
             "layer": [
               {"mark": {"type": "rect", "color": "#d9e6eb"}, "encoding": {"y": {"datum": 0.256}, "y2": {"datum": 0.39}}},
               {"mark": {"type": "text", "fontSize": 26, "color": "#000"}, "encoding": {"y": {"datum": 0.346}, "text": {"field": "county", "type": "nominal"}}}
             ]},
            {"mark": {"type": "line", "color": "#1a476f", "strokeWidth": 2.2},
             "encoding": {
               "x": {"field": "date", "type": "temporal", "scale": {"domain": [{"year": 2019, "month": 12, "date": 24, "hours": 7}, {"year": 2020, "month": 6, "date": 7, "hours": 3}], "nice": false},
                     "axis": {"values": [{"year": 2020, "month": 1, "date": 1}, {"year": 2020, "month": 3, "date": 1}, {"year": 2020, "month": 5, "date": 1}], "labelExpr": "month(datum.value) == 0 ? 'Jan 1' : month(datum.value) == 2 ? 'March 1' : 'May 1'", "labelFontSize": 23, "labelPadding": 6, "labelFlush": false, "labelOverlap": false, "grid": true, "title": null}},
               "y": {"field": "revenue", "type": "quantitative", "scale": {"domain": [-0.66, 0.256], "nice": false, "zero": false},
                     "axis": {"values": [-0.6, -0.4, -0.2, 0, 0.2], "labels": false, "ticks": false, "domain": false, "grid": true, "title": null}}
             }}
          ]
        }
      ]
    }
  ],
  "config": {
    "font": "Liberation Sans",
    "view": {"fill": "white", "stroke": null},
    "axis": {"domainColor": "#1e1e1e", "tickColor": "#1e1e1e", "labelColor": "#000", "gridColor": "#e4edf0", "gridWidth": 1.5, "tickSize": 10, "domainWidth": 1.2, "tickWidth": 1.2, "labelFont": "Liberation Sans"},
    "title": {"fontWeight": "normal", "color": "#000", "font": "Liberation Sans"},
    "text": {"font": "Liberation Sans"}
  }
}
